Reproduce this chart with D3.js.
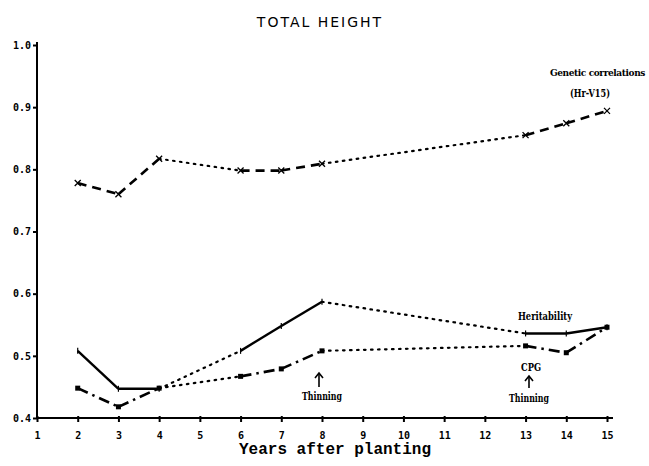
<!DOCTYPE html>
<html><head><meta charset="utf-8">
<script src="https://cdn.jsdelivr.net/npm/d3@7"></script>
<style>
html,body{margin:0;padding:0;background:#fff;}
svg{display:block;}
</style></head>
<body>
<svg id="c" width="649" height="466"></svg>
<script>
// ---- data ----
const years = [2, 3, 4, 6, 7, 8, 13, 14, 15];
const genetic = [0.778, 0.760, 0.817, 0.798, 0.798, 0.809, 0.855, 0.874, 0.894];
const heritability = [0.508, 0.447, 0.447, 0.508, 0.548, 0.587, 0.536, 0.536, 0.546];
const cpg = [0.448, 0.418, 0.448, 0.467, 0.479, 0.508, 0.516, 0.505, 0.546];
// connection between consecutive points: measured (m) or interpolated gap (g)
const links = ["m", "m", "g", "m", "m", "g", "m", "m"];
const xTicks = [1,2,3,4,5,6,7,8,9,10,11,12,13,14,15];
const yTicks = [0.4,0.5,0.6,0.7,0.8,0.9,1.0];
const title = "TOTAL HEIGHT";
const xLabel = "Years after planting";

const svg = d3.select("#c");
const x = d3.scaleLinear().domain([1, 15]).range([37, 607]);
const y = d3.scaleLinear().domain([0.4, 1.0]).range([418, 45]);

// axes
const gx = svg.append("g").attr("transform", `translate(0,${y(0.4)})`)
  .call(d3.axisBottom(x).tickValues(xTicks).tickSize(4).tickPadding(10).tickFormat(d3.format("d")));
const gy = svg.append("g").attr("transform", `translate(${x(1)},0)`)
  .call(d3.axisLeft(y).tickValues(yTicks).tickSize(4).tickPadding(2).tickFormat(d3.format(".1f")));
[gx, gy].forEach(g => {
  g.select(".domain").attr("stroke", "#000").attr("stroke-width", 2);
  g.selectAll(".tick line").attr("stroke", "#000").attr("stroke-width", 2);
  g.selectAll(".tick text").attr("fill", "#000")
    .style("font-family", "'DejaVu Sans Mono', monospace").style("font-weight", "bold").style("font-size", "10px");
});
gx.selectAll(".tick line").attr("y1", -2).attr("y2", 4);
gx.select(".domain").attr("d", `M${x(1)},0H${x(15) + 6}`);
gy.select(".domain").attr("d", `M0,${y(0.4) + 1}V${y(1.0) - 3}`);

// series
const styles = {
  genetic: { dash: "9,6", width: 2.6 },
  heritability: { dash: null, width: 2.4 },
  cpg: { dash: "11,5,2.5,5", width: 2.6 }
};
const dotted = { dash: "1.6,5.4", width: 2.2 };
const series = [
  { key: "genetic", vals: genetic },
  { key: "heritability", vals: heritability },
  { key: "cpg", vals: cpg }
];
series.forEach(s => {
  const g = svg.append("g");
  links.forEach((t, i) => {
    const st = t === "m" ? styles[s.key] : dotted;
    g.append("line")
      .attr("x1", x(years[i])).attr("y1", y(s.vals[i]))
      .attr("x2", x(years[i + 1])).attr("y2", y(s.vals[i + 1]))
      .attr("stroke", "#000").attr("stroke-width", st.width)
      .attr("stroke-linecap", t === "m" ? "butt" : "round")
      .attr("stroke-dasharray", st.dash);
  });
  years.forEach((yr, i) => {
    const cx = x(yr), cy = y(s.vals[i]);
    if (s.key === "genetic") {
      g.append("path").attr("d", `M${cx-3},${cy-3}L${cx+3},${cy+3}M${cx-3},${cy+3}L${cx+3},${cy-3}`)
        .attr("stroke", "#000").attr("stroke-width", 1.3);
    } else if (s.key === "cpg") {
      g.append("rect").attr("x", cx - 2.5).attr("y", cy - 2.5).attr("width", 5).attr("height", 5).attr("fill", "#000");
    } else {
      g.append("path").attr("d", `M${cx},${cy-3}V${cy+3}`).attr("stroke", "#000").attr("stroke-width", 1.2);
    }
  });
});

// title and axis label
svg.append("text").attr("x", 320).attr("y", 27).attr("text-anchor", "middle")
  .style("font-family", "'DejaVu Sans', sans-serif").style("font-size", "14px").style("letter-spacing", "2px")
  .text(title);
svg.append("text").attr("x", 335).attr("y", 454).attr("text-anchor", "middle")
  .style("font-family", "'Liberation Mono', monospace").style("font-weight", "bold").style("font-size", "16px")
  .text(xLabel);

// annotations
const ann = (txt, ax, ay, w) => svg.append("text").attr("x", ax).attr("y", ay)
  .attr("text-anchor", "middle")
  .style("font-family", "'DejaVu Serif Condensed', 'DejaVu Serif', serif").style("font-weight", "bold").style("font-size", "11px")
  .attr("textLength", w).attr("lengthAdjust", "spacingAndGlyphs").text(txt);
svg.append("text").attr("x", 645).attr("y", 76).attr("text-anchor", "end")
  .style("font-family", "'DejaVu Serif Condensed', 'DejaVu Serif', serif").style("font-weight", "bold")
  .style("font-size", "10px").style("letter-spacing", "-0.4px")
  .text("Genetic correlations");
ann("(Hr-V15)", 590, 97, 40);
ann("Heritability", 545, 320, 54);
ann("CPG", 531, 371, 20);
ann("Thinning", 322, 400, 40);
ann("Thinning", 529, 402, 40);

const arrow = (ax, y1, y2) => {
  svg.append("line").attr("x1", ax).attr("y1", y1).attr("x2", ax).attr("y2", y2).attr("stroke", "#000").attr("stroke-width", 1.6);
  svg.append("path").attr("d", `M${ax-4},${y1+4}L${ax},${y1-1}L${ax+4},${y1+4}`).attr("fill", "none").attr("stroke", "#000").attr("stroke-width", 1.6);
};
arrow(319, 374, 387);
arrow(529, 377, 388);
</script>
</body></html>
